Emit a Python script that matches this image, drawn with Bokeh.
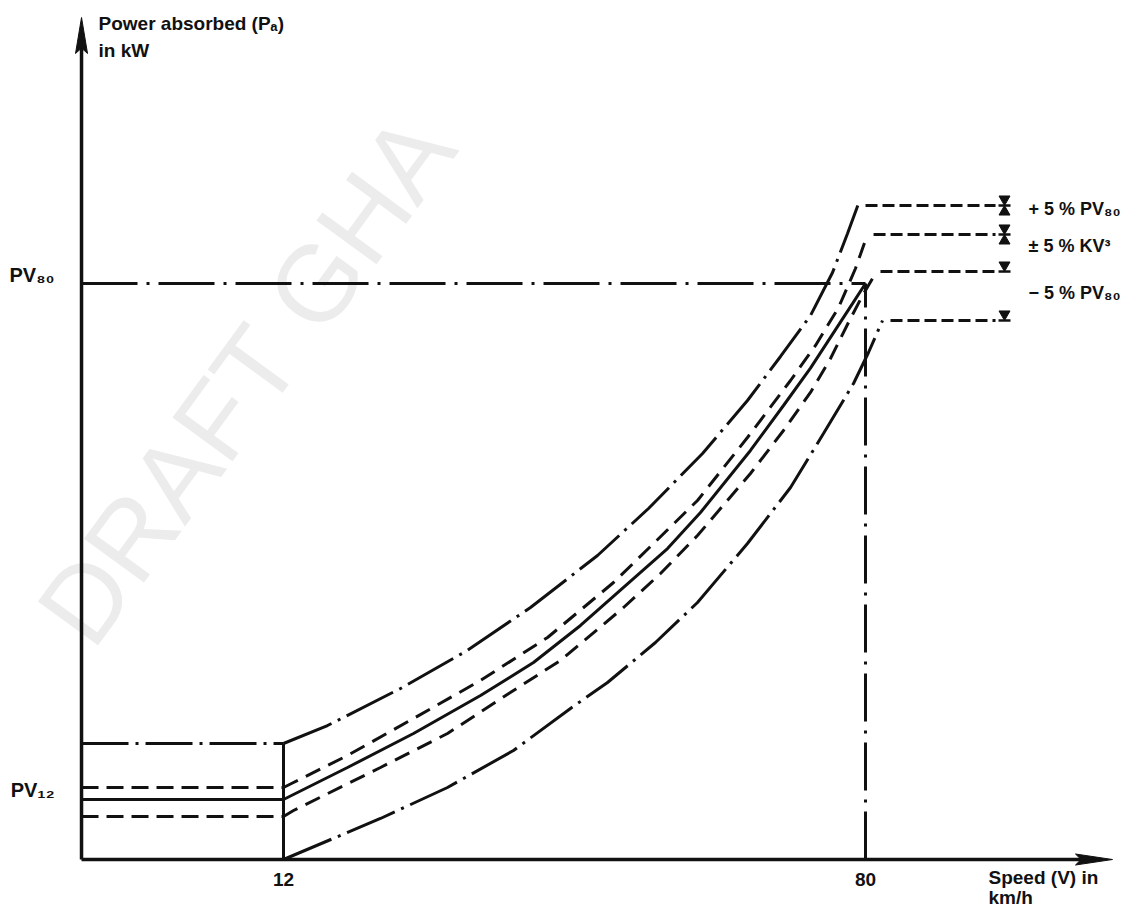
from bokeh.plotting import figure
from bokeh.models import Range1d
from bokeh.core.properties import value
from bokeh.embed import file_html
from bokeh.resources import INLINE

# ---------------- data ----------------
# speed V (km/h, schematic scale) and absorbed power (in % of PV80, schematic)
speed_ticks = [12, 80]
speed_tick_labels = ["12", "80"]
PV80 = 100.0
PV12 = 10.42
power_tick_values = [PV80, PV12]
power_tick_labels = ["PV₈₀", "PV₁₂"]

# constant-power levels below 12 km/h
left_plus_pv = 20.14   # +5 % PV (dash-dot)
left_plus_kv = 12.50   # +5 % KV^3 (dashed)
left_kv = 10.42        # KV^3 (solid)
left_minus_kv = 7.47   # -5 % KV^3 (dashed)

# K V^3 curve (solid)
kv_speed = [12, 19.48, 27.19, 35.02, 41.21, 46.70, 52.89, 56.87, 60.72, 66.56, 70.42, 73.57, 76.50, 78.48, 80.0]
kv_power = [10.42, 15.97, 21.88, 28.47, 34.20, 40.63, 48.78, 53.99, 60.24, 71.01, 78.82, 85.30, 92.00, 96.50, 100.0]

# +5 % K V^3 (dashed)
kv_up_speed = [12, 13.17, 19.48, 27.19, 35.02, 42.85, 50.56, 54.88, 60.37, 66.21, 71.24, 74.16, 76.85, 78.83, 80.23]
kv_up_power = [12.50, 13.37, 18.06, 24.48, 31.08, 38.54, 48.09, 54.34, 62.33, 73.26, 83.16, 89.24, 95.83, 102.60, 108.51]

# -5 % K V^3 (dashed)
kv_lo_speed = [12, 13.17, 23.33, 31.16, 38.87, 44.36, 51.73, 56.05, 60.37, 66.56, 70.42, 73.57, 75.91, 78.01, 79.65, 81.29]
kv_lo_power = [7.47, 8.51, 15.97, 21.88, 29.34, 34.55, 43.75, 49.65, 56.25, 67.01, 74.48, 81.08, 86.98, 93.23, 97.92, 102.08]

# +5 % PV80 envelope (dash-dot)
pv_up_speed = [12, 17.14, 25.67, 33.27, 40.86, 48.69, 54.65, 60.96, 66.21, 70.07, 73.57, 76.15, 77.90, 79.10]
pv_up_power = [20.14, 23.26, 29.69, 36.11, 43.75, 52.78, 60.94, 70.49, 79.69, 87.33, 94.44, 101.91, 108.68, 113.54]

# -5 % PV80 envelope (dash-dot)
pv_lo_speed = [12, 23.33, 31.16, 38.87, 45.53, 49.86, 55.46, 60.37, 66.21, 71.24, 75.09, 78.60, 80.35, 81.99]
pv_lo_power = [0.0, 7.12, 12.50, 18.92, 26.22, 30.73, 37.67, 44.62, 54.86, 64.58, 73.96, 82.64, 88.02, 93.58]

# tolerance lines on the right: level and start speed
band_levels = [113.54, 108.51, 102.08, 93.58]
band_starts = [80.0, 80.94, 81.75, 82.92]
band_end = 95.19
band_labels = ["+ 5 % PV₈₀", "± 5 % KV³", "− 5 % PV₈₀"]

# axes extent (schematic)
V_AXIS = -11.60
V_AXIS_END = 108.86
P_AXIS_END = 146.18

# ---------------- layout ----------------
W, H = 1136, 912
X0, X1 = -21.066, 111.663
Y0, Y1 = -9.201, 149.132
kx = W / (X1 - X0)
ky = H / (Y1 - Y0)

INK = "#111111"
LW = 3
FONT = value("Liberation Sans")

p = figure(width=W, height=H, x_range=Range1d(X0, X1), y_range=Range1d(Y0, Y1),
           x_axis_type=None, y_axis_type=None, toolbar_location=None,
           output_backend="svg", min_border=0, outline_line_color=None,
           background_fill_color="white", border_fill_color="white")

# faint watermark
p.text(x=[X0 + 62 / kx], y=[Y0 + (H - 630) / ky], text=["DRAFT GHA"], angle=0.94,
       text_font=FONT, text_font_size="108px", text_color="#ececec",
       text_baseline="middle", text_align="left")

# axes with arrow heads
yhead, yhw = 36 / ky, 6 / kx
xhead, xhw = 37 / kx, 5.5 / ky
p.line([V_AXIS, V_AXIS], [0, P_AXIS_END - yhead * 0.6], line_width=3.5, color=INK)
p.patch([V_AXIS - yhw, V_AXIS, V_AXIS + yhw, V_AXIS],
        [P_AXIS_END - yhead, P_AXIS_END, P_AXIS_END - yhead, P_AXIS_END - yhead * 0.85],
        color=INK, line_width=1)
p.line([V_AXIS, V_AXIS_END - xhead * 0.6], [0, 0], line_width=3.5, color=INK)
p.patch([V_AXIS_END - xhead, V_AXIS_END, V_AXIS_END - xhead, V_AXIS_END - xhead * 0.85],
        [xhw, 0, -xhw, 0], color=INK, line_width=1)

# PV80 reference lines (dash-dot)
p.line([V_AXIS, speed_ticks[1]], [PV80, PV80], line_width=LW, color=INK, line_dash="56 9 3 9")
p.line([speed_ticks[1], speed_ticks[1]], [0, PV80], line_width=LW, color=INK, line_dash="48 9 3 9")

# constant levels below 12 km/h
p.line([V_AXIS, speed_ticks[0]], [left_plus_pv, left_plus_pv], line_width=LW, color=INK, line_dash="47 7 3 7")
p.line([V_AXIS, speed_ticks[0]], [left_plus_kv, left_plus_kv], line_width=LW, color=INK, line_dash="17 8")
p.line([V_AXIS, speed_ticks[0]], [left_kv, left_kv], line_width=LW, color=INK)
p.line([V_AXIS, speed_ticks[0]], [left_minus_kv, left_minus_kv], line_width=LW, color=INK, line_dash="17 8")
p.line([speed_ticks[0], speed_ticks[0]], [0, left_plus_pv], line_width=LW, color=INK)

# curves
p.line(pv_up_speed, pv_up_power, line_width=LW, color=INK, line_dash="52 7 3 7")
p.line(kv_up_speed, kv_up_power, line_width=LW, color=INK, line_dash="16 9")
p.line(kv_speed, kv_power, line_width=LW, color=INK)
p.line(kv_lo_speed, kv_lo_power, line_width=LW, color=INK, line_dash="16 9")
p.line(pv_lo_speed, pv_lo_power, line_width=LW, color=INK, line_dash="52 7 3 7")

# tolerance lines on the right
for lvl, st in zip(band_levels, band_starts):
    p.line([st, band_end], [lvl, lvl], line_width=LW, color=INK, line_dash="12 5")

# tolerance markers
mx = band_end + 9 / kx
tri = 11
off = 0.577 * tri / ky  # centre of triangle relative to apex
bar_x = [mx] * 4
p.scatter(bar_x, band_levels, marker="dash", size=12, line_width=2.5, color=INK)
# hourglasses on the two upper lines
p.scatter([mx, mx], [band_levels[0] + off, band_levels[1] + off], marker="inverted_triangle", size=tri, color=INK)
p.scatter([mx, mx], [band_levels[0] - off, band_levels[1] - off], marker="triangle", size=tri, color=INK)
# down arrows on the two lower lines
p.scatter([mx, mx], [band_levels[2] + off, band_levels[3] + off], marker="inverted_triangle", size=tri, color=INK)

# right-hand labels
lab_x = band_end + 33 / kx
p.text(x=[lab_x], y=[band_levels[0]], y_offset=3, text=[band_labels[0]], text_font=FONT, text_font_style="bold",
       text_font_size="18px", text_color=INK, text_baseline="middle", text_align="left")
p.text(x=[lab_x], y=[(band_levels[1] + band_levels[2]) / 2], y_offset=-7, text=[band_labels[1]], text_font=FONT,
       text_font_style="bold", text_font_size="18px", text_color=INK, text_baseline="middle", text_align="left")
p.text(x=[lab_x], y=[band_levels[3]], y_offset=-27, text=[band_labels[2]], text_font=FONT, text_font_style="bold",
       text_font_size="18px", text_color=INK, text_baseline="middle", text_align="left")

# tick labels
p.text(x=speed_ticks, y=[0, 0], y_offset=20, text=speed_tick_labels, text_font=FONT, text_font_style="bold",
       text_font_size="19px", text_color=INK, text_baseline="middle", text_align="center")
p.text(x=[V_AXIS, V_AXIS], y=power_tick_values, x_offset=-27, y_offset=-9, text=power_tick_labels,
       text_font=FONT, text_font_style="bold", text_font_size="20px", text_color=INK,
       text_baseline="middle", text_align="right")

# axis titles
p.text(x=[V_AXIS, V_AXIS], y=[P_AXIS_END, P_AXIS_END], x_offset=17, y_offset=[6, 33],
       text=["Power absorbed (Pₐ)", "in kW"], text_font=FONT, text_font_style="bold",
       text_font_size="19px", text_color=INK, text_baseline="middle", text_align="left")
p.text(x=[V_AXIS_END, V_AXIS_END], y=[0, 0], x_offset=-124, y_offset=[18, 38],
       text=["Speed (V) in", "km/h"], text_font=FONT, text_font_style="bold",
       text_font_size="19px", text_color=INK, text_baseline="middle", text_align="left")

open("out.html", "w").write(file_html(p, INLINE))
